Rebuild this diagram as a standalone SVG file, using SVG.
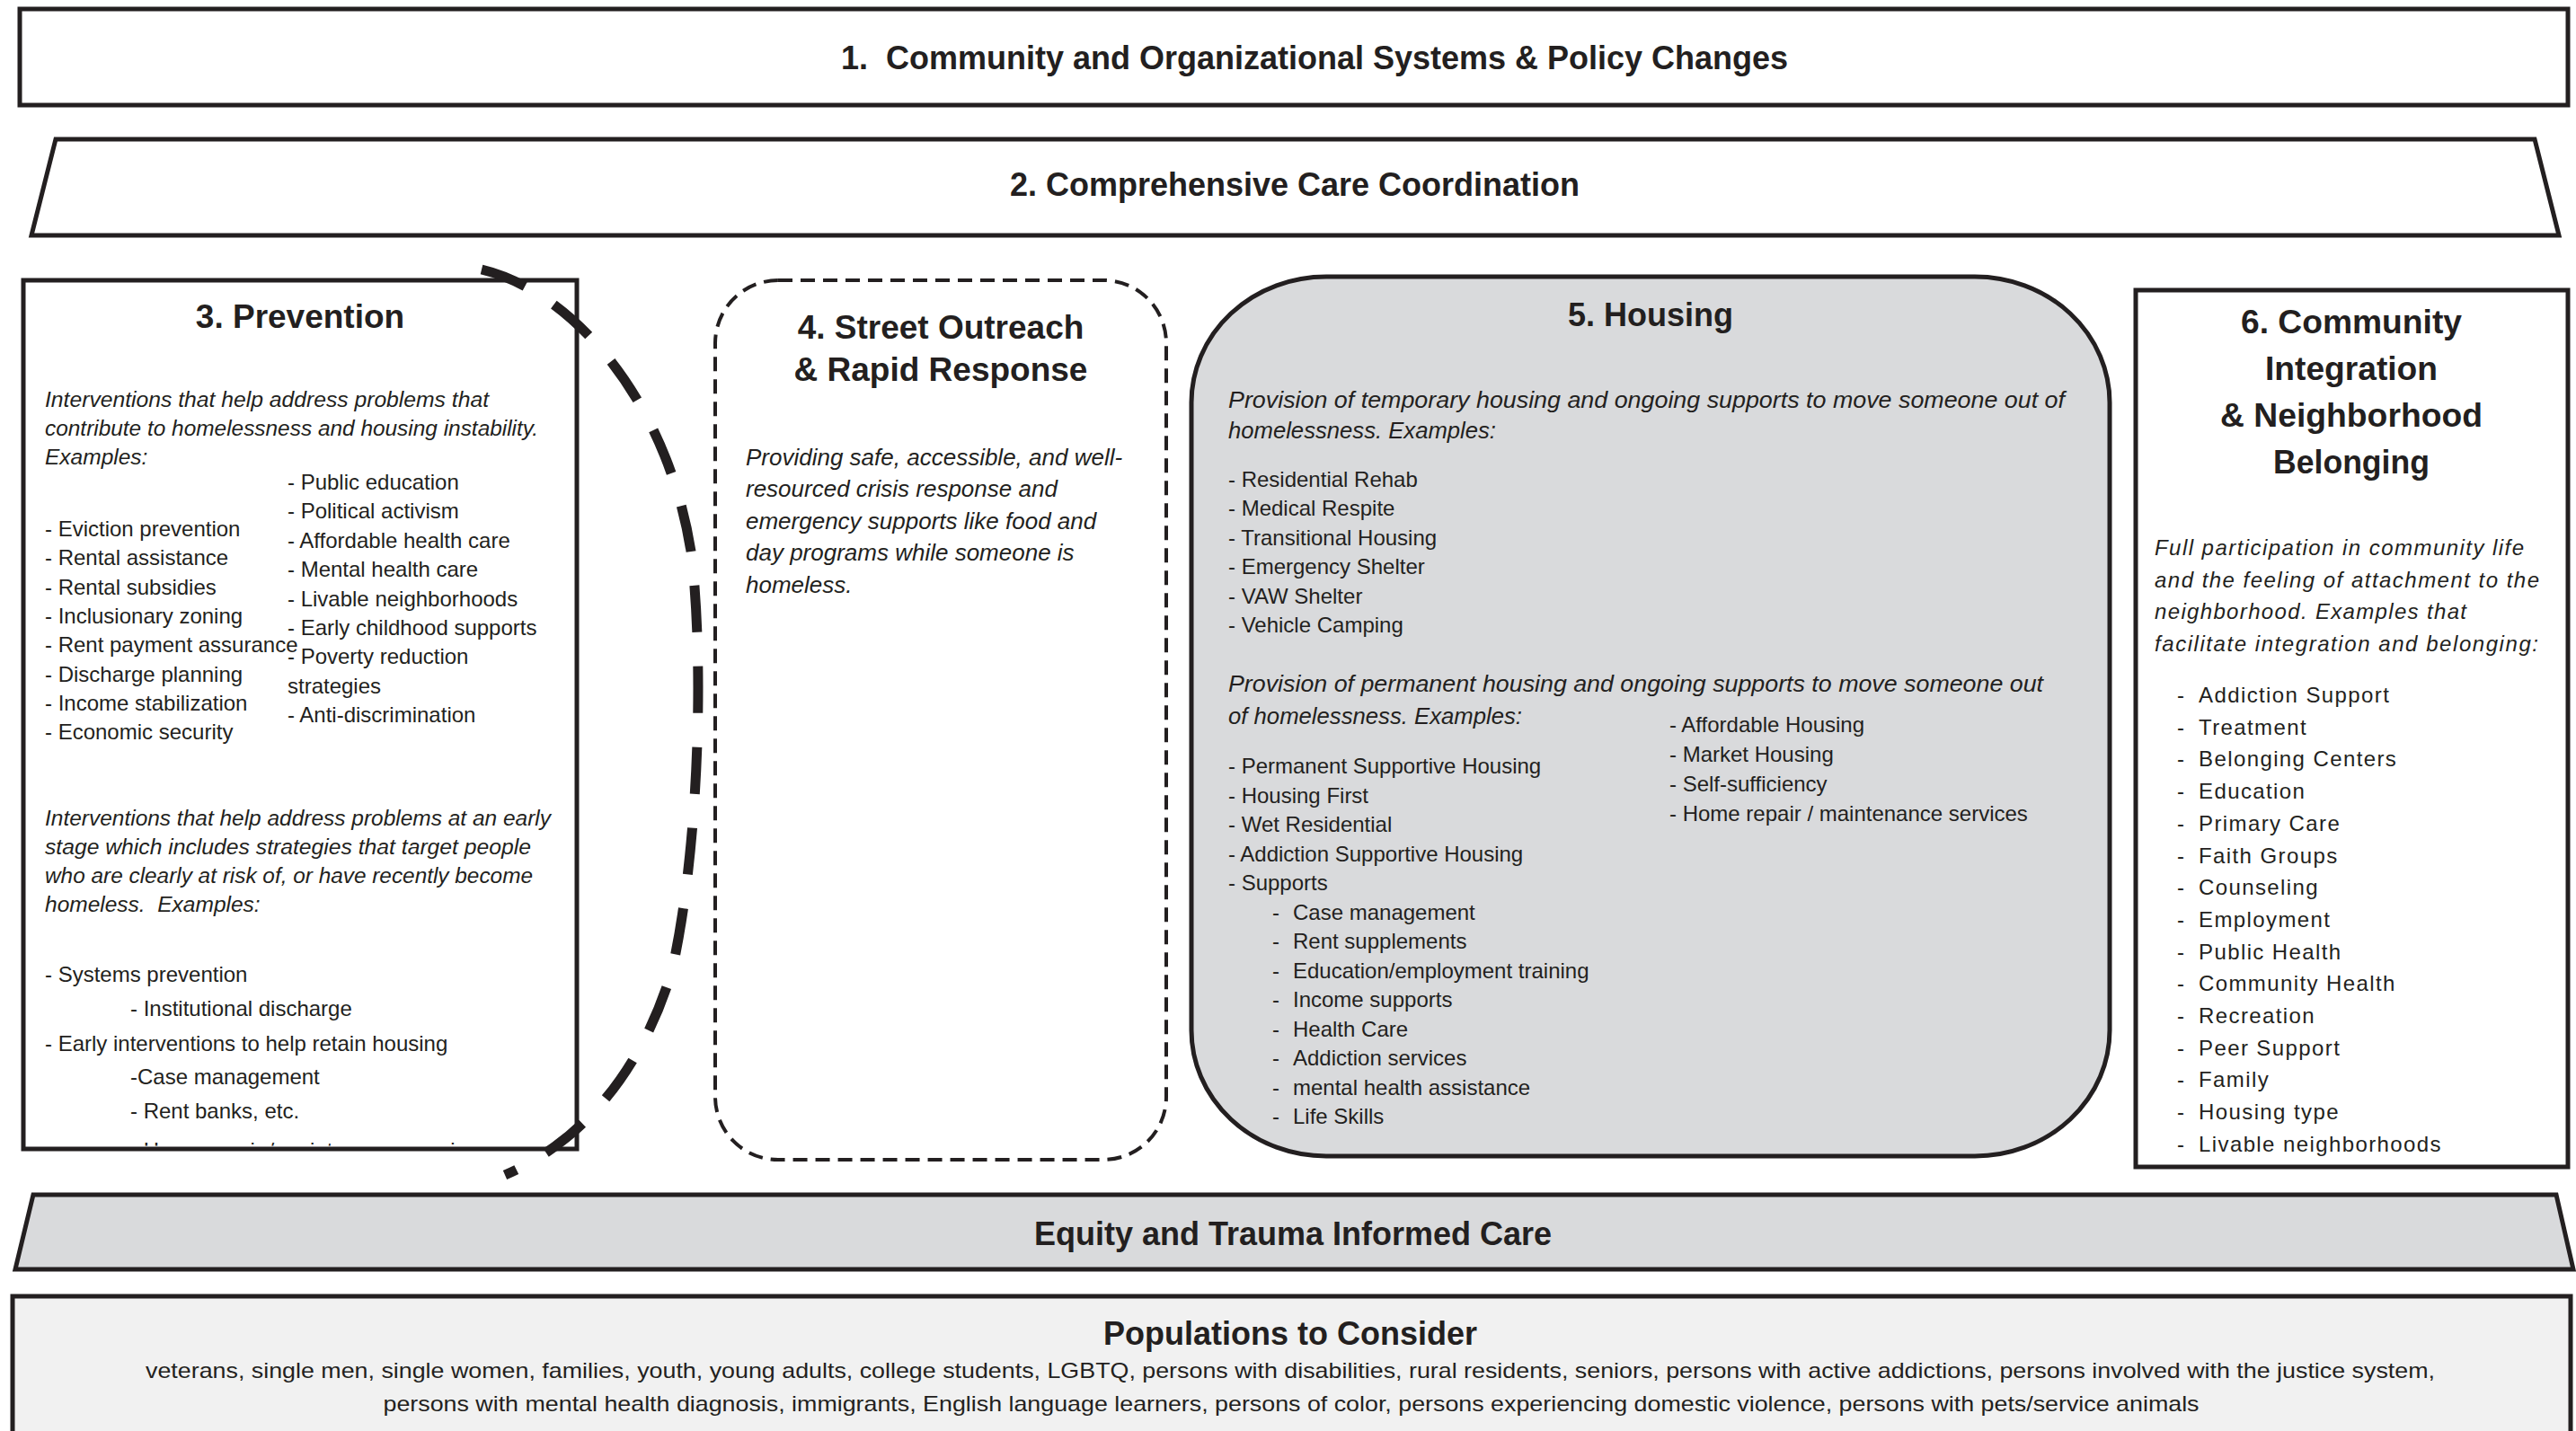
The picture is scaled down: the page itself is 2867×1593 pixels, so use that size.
<svg xmlns="http://www.w3.org/2000/svg" width="2867" height="1593" viewBox="0 0 2867 1593">
<style>
.t{font-family:"Liberation Sans",Arial,sans-serif;fill:#231f20}
.b{font-weight:bold}
.i{font-style:italic}
.h{font-size:36px;font-weight:bold;text-anchor:middle}
.s24{font-size:24px}
.c{text-anchor:middle}
.box{fill:#fff;stroke:#231f20;stroke-width:5}
.gray{fill:#d9dadc;stroke:#231f20;stroke-width:5}
.ls{letter-spacing:1.4px}
</style>
<defs>
<clipPath id="clip3"><rect x="28.5" y="314.5" width="611" height="961"/></clipPath>
</defs>
<rect width="2867" height="1593" fill="#fff"/>

<g id="node1">
<rect class="box" x="22" y="10" width="2836" height="107"/>
<text class="t h" x="1463" y="77">1.&#160; Community and Organizational Systems &amp; Policy Changes</text>
</g>

<g id="node2">
<polygon class="box" points="62,155 2821,155 2848,262 35,262"/>
<text class="t h" x="1441" y="218">2. Comprehensive Care Coordination</text>
</g>

<g id="node3">
<rect class="box" x="26" y="312" width="616" height="967"/>
<text class="t h" style="font-size:37px" x="334" y="365">3. Prevention</text>
<g class="t i" style="font-size:24.5px">
<text x="50" y="453" textLength="494" lengthAdjust="spacingAndGlyphs">Interventions that help address problems that</text>
<text x="50" y="485" textLength="549" lengthAdjust="spacingAndGlyphs">contribute to homelessness and housing instability.</text>
<text x="50" y="517">Examples:</text>
<text x="50" y="919" textLength="563" lengthAdjust="spacingAndGlyphs">Interventions that help address problems at an early</text>
<text x="50" y="951" textLength="541" lengthAdjust="spacingAndGlyphs">stage which includes strategies that target people</text>
<text x="50" y="983" textLength="543" lengthAdjust="spacingAndGlyphs">who are clearly at risk of, or have recently become</text>
<text x="50" y="1015">homeless.&#160; Examples:</text>
</g>
<g class="t s24">
<text x="50" y="597">- Eviction prevention</text>
<text x="50" y="629">- Rental assistance</text>
<text x="50" y="662">- Rental subsidies</text>
<text x="50" y="694">- Inclusionary zoning</text>
<text x="50" y="726">- Rent payment assurance</text>
<text x="50" y="759">- Discharge planning</text>
<text x="50" y="791">- Income stabilization</text>
<text x="50" y="823">- Economic security</text>
<text x="320" y="545">- Public education</text>
<text x="320" y="577">- Political activism</text>
<text x="320" y="610">- Affordable health care</text>
<text x="320" y="642">- Mental health care</text>
<text x="320" y="675">- Livable neighborhoods</text>
<text x="320" y="707">- Early childhood supports</text>
<text x="320" y="739">- Poverty reduction</text>
<text x="320" y="772">strategies</text>
<text x="320" y="804">- Anti-discrimination</text>
<text x="50" y="1093">- Systems prevention</text>
<text x="145" y="1131">- Institutional discharge</text>
<text x="50" y="1170">- Early interventions to help retain housing</text>
<text x="145" y="1207">-Case management</text>
<text x="145" y="1245">- Rent banks, etc.</text>
<text x="145" y="1289" clip-path="url(#clip3)">- Home repair / maintenance services</text>
</g>
</g>

<g id="node4">
<rect x="796" y="312" width="502" height="979" rx="70" ry="70" fill="#fff" stroke="#231f20" stroke-width="4" stroke-dasharray="16 9"/>
<text class="t h" style="font-size:37px" x="1047" y="377">4. Street Outreach</text>
<text class="t h" style="font-size:37px" x="1047" y="424">&amp; Rapid Response</text>
<g class="t i" style="font-size:26px">
<text x="830" y="518">Providing safe, accessible, and well-</text>
<text x="830" y="553">resourced crisis response and</text>
<text x="830" y="589">emergency supports like food and</text>
<text x="830" y="624">day programs while someone is</text>
<text x="830" y="660">homeless.</text>
</g>
</g>

<g id="node5">
<rect class="gray" x="1326" y="308" width="1022" height="979" rx="150" ry="140"/>
<text class="t h" x="1837" y="363">5. Housing</text>
<g class="t i" style="font-size:26px">
<text x="1367" y="454" textLength="931" lengthAdjust="spacingAndGlyphs">Provision of temporary housing and ongoing supports to move someone out of</text>
<text x="1367" y="488" textLength="298" lengthAdjust="spacingAndGlyphs">homelessness. Examples:</text>
<text x="1367" y="770" textLength="907" lengthAdjust="spacingAndGlyphs">Provision of permanent housing and ongoing supports to move someone out</text>
<text x="1367" y="806" textLength="327" lengthAdjust="spacingAndGlyphs">of homelessness. Examples:</text>
</g>
<g class="t s24">
<text x="1367" y="542">- Residential Rehab</text>
<text x="1367" y="574">- Medical Respite</text>
<text x="1367" y="607">- Transitional Housing</text>
<text x="1367" y="639">- Emergency Shelter</text>
<text x="1367" y="672">- VAW Shelter</text>
<text x="1367" y="704">- Vehicle Camping</text>
<text x="1858" y="815">- Affordable Housing</text>
<text x="1858" y="848">- Market Housing</text>
<text x="1858" y="881">- Self-sufficiency</text>
<text x="1858" y="914">- Home repair / maintenance services</text>
<text x="1367" y="861">- Permanent Supportive Housing</text>
<text x="1367" y="894">- Housing First</text>
<text x="1367" y="926">- Wet Residential</text>
<text x="1367" y="959">- Addiction Supportive Housing</text>
<text x="1367" y="991">- Supports</text>
<text y="1024"><tspan x="1416">-</tspan><tspan x="1439">Case management</tspan></text>
<text y="1056"><tspan x="1416">-</tspan><tspan x="1439">Rent supplements</tspan></text>
<text y="1089"><tspan x="1416">-</tspan><tspan x="1439">Education/employment training</tspan></text>
<text y="1121"><tspan x="1416">-</tspan><tspan x="1439">Income supports</tspan></text>
<text y="1154"><tspan x="1416">-</tspan><tspan x="1439">Health Care</tspan></text>
<text y="1186"><tspan x="1416">-</tspan><tspan x="1439">Addiction services</tspan></text>
<text y="1219"><tspan x="1416">-</tspan><tspan x="1439">mental health assistance</tspan></text>
<text y="1251"><tspan x="1416">-</tspan><tspan x="1439">Life Skills</tspan></text>
</g>
</g>

<g id="node6">
<rect class="box" x="2377" y="323" width="481" height="976"/>
<text class="t h" x="2617" y="371" textLength="246" lengthAdjust="spacingAndGlyphs">6. Community</text>
<text class="t h" x="2617" y="423" textLength="192" lengthAdjust="spacingAndGlyphs">Integration</text>
<text class="t h" x="2617" y="475" textLength="292" lengthAdjust="spacingAndGlyphs">&amp; Neighborhood</text>
<text class="t h" x="2617" y="527" textLength="174" lengthAdjust="spacingAndGlyphs">Belonging</text>
<g class="t i s24">
<text x="2398" y="618" textLength="411" lengthAdjust="spacing">Full participation in community life</text>
<text x="2398" y="654" textLength="428" lengthAdjust="spacing">and the feeling of attachment to the</text>
<text x="2398" y="689" textLength="347" lengthAdjust="spacing">neighborhood. Examples that</text>
<text x="2398" y="725" textLength="427" lengthAdjust="spacing">facilitate integration and belonging:</text>
</g>
<g class="t s24 ls">
<text y="782"><tspan x="2423">-</tspan><tspan x="2447">Addiction Support</tspan></text>
<text y="818"><tspan x="2423">-</tspan><tspan x="2447">Treatment</tspan></text>
<text y="853"><tspan x="2423">-</tspan><tspan x="2447">Belonging Centers</tspan></text>
<text y="889"><tspan x="2423">-</tspan><tspan x="2447">Education</tspan></text>
<text y="925"><tspan x="2423">-</tspan><tspan x="2447">Primary Care</tspan></text>
<text y="961"><tspan x="2423">-</tspan><tspan x="2447">Faith Groups</tspan></text>
<text y="996"><tspan x="2423">-</tspan><tspan x="2447">Counseling</tspan></text>
<text y="1032"><tspan x="2423">-</tspan><tspan x="2447">Employment</tspan></text>
<text y="1068"><tspan x="2423">-</tspan><tspan x="2447">Public Health</tspan></text>
<text y="1103"><tspan x="2423">-</tspan><tspan x="2447">Community Health</tspan></text>
<text y="1139"><tspan x="2423">-</tspan><tspan x="2447">Recreation</tspan></text>
<text y="1175"><tspan x="2423">-</tspan><tspan x="2447">Peer Support</tspan></text>
<text y="1210"><tspan x="2423">-</tspan><tspan x="2447">Family</tspan></text>
<text y="1246"><tspan x="2423">-</tspan><tspan x="2447">Housing type</tspan></text>
<text y="1282"><tspan x="2423">-</tspan><tspan x="2447">Livable neighborhoods</tspan></text>
</g>
</g>

<g id="node-equity">
<polygon class="gray" points="37,1330 2845,1330 2864,1413 17,1413"/>
<text class="t h" x="1439" y="1386">Equity and Trauma Informed Care</text>
</g>

<g id="node-populations">
<rect x="14" y="1443" width="2847" height="200" fill="#f1f1f1" stroke="#231f20" stroke-width="5"/>
<text class="t h" x="1436" y="1497">Populations to Consider</text>
<text class="t s24 c" x="1436" y="1534" textLength="2548" lengthAdjust="spacingAndGlyphs">veterans, single men, single women, families, youth, young adults, college students, LGBTQ, persons with disabilities, rural residents, seniors, persons with active addictions, persons involved with the justice system,</text>
<text class="t s24 c" x="1437" y="1571" textLength="2021" lengthAdjust="spacingAndGlyphs">persons with mental health diagnosis, immigrants, English language learners, persons of color, persons experiencing domestic violence, persons with pets/service animals</text>
</g>

<g id="connectors">
<path d="M536,300 C640,325 745,450 770,620 C785,760 775,960 748,1080 C715,1190 650,1270 562,1308" fill="none" stroke="#231f20" stroke-width="11" stroke-dasharray="52 38"/>
</g>
</svg>
